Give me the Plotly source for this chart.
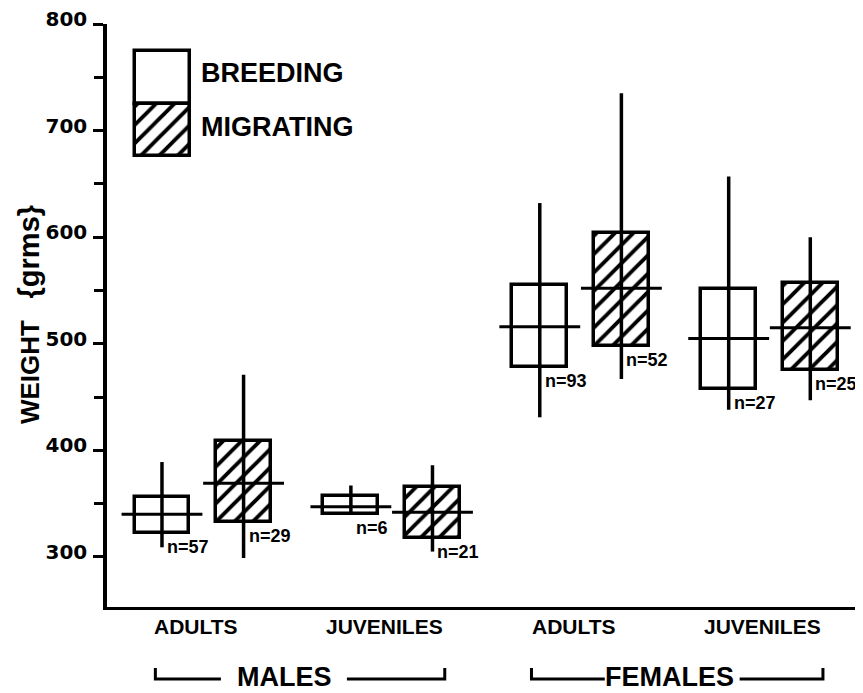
import plotly.graph_objects as go

# ---------------- data ----------------
age_groups = ["ADULTS", "JUVENILES", "ADULTS", "JUVENILES"]
sexes = ["MALES", "FEMALES"]
y_ticks = [300, 400, 500, 600, 700, 800]

# Breeding season (open boxes)
breed_mean = [340, 347, 516, 505]
breed_box_low = [322, 340, 478, 458]
breed_box_high = [356, 357, 555, 551]
breed_min = [309, 341, 431, 438]
breed_max = [389, 367, 632, 657]
breed_n = [57, 6, 93, 27]

# Migrating season (hatched boxes)
migr_mean = [369, 342, 552, 515]
migr_box_low = [333, 318, 498, 475]
migr_box_high = [409, 366, 604, 557]
migr_min = [299, 305, 467, 447]
migr_max = [471, 386, 735, 600]
migr_n = [29, 21, 52, 25]

# ---------------- layout constants ----------------
# page body has an 8px default margin, so the figure is sized/offset to compensate
W, H = 855, 685
ML, MR, MT, MB = 99, 0, 16, 86
OFF = 0.216        # offset of each season within a group
BOXW = 0.29        # box width (x units)
MEANHW = 0.214     # half width of mean line
TXT = "Liberation Sans, Arial, sans-serif"
HATCH = dict(shape="/", fgcolor="black", bgcolor="white", size=13, solidity=0.3, fgopacity=1)

fig = go.Figure()

def add_season(idx_off, mean, lo, hi, mn, mx, ns, hatched):
    xs = [i + idx_off for i in range(len(mean))]
    pattern = HATCH if hatched else dict(shape="")
    fig.add_trace(go.Bar(
        x=xs, y=[h - l for h, l in zip(hi, lo)], base=lo, width=BOXW,
        marker=dict(color="white", opacity=1, line=dict(color="black", width=3.5), pattern=pattern),
        showlegend=False, hoverinfo="skip"))
    vx, vy, hx, hy = [], [], [], []
    for x, a, b, m in zip(xs, mn, mx, mean):
        vx += [x, x, None]
        vy += [a, b, None]
        hx += [x - MEANHW, x + MEANHW, None]
        hy += [m, m, None]
    fig.add_trace(go.Scatter(x=vx, y=vy, mode="lines", line=dict(color="black", width=3.5),
                             showlegend=False, hoverinfo="skip"))
    fig.add_trace(go.Scatter(x=hx, y=hy, mode="lines", line=dict(color="black", width=3),
                             showlegend=False, hoverinfo="skip"))
    for x, l, n in zip(xs, lo, ns):
        fig.add_annotation(x=x, y=l, text=f"n={n}", showarrow=False, xanchor="left", yanchor="middle",
                           xshift=3, yshift=-14, font=dict(family=TXT, size=18, color="black", weight="bold"))

add_season(-OFF, breed_mean, breed_box_low, breed_box_high, breed_min, breed_max, breed_n, False)
add_season(+OFF, migr_mean, migr_box_low, migr_box_high, migr_min, migr_max, migr_n, True)

# ---------------- legend swatch ----------------
LX = -0.2135
fig.add_trace(go.Bar(x=[LX], y=[50], base=[725], width=BOXW,
                     marker=dict(color="white", opacity=1, line=dict(color="black", width=3.5)),
                     showlegend=False, hoverinfo="skip"))
fig.add_trace(go.Bar(x=[LX], y=[49], base=[676], width=BOXW,
                     marker=dict(color="white", opacity=1, line=dict(color="black", width=3.5),
                                 pattern=HATCH),
                     showlegend=False, hoverinfo="skip"))
fig.add_annotation(x=LX + BOXW / 2, y=754, text="BREEDING", showarrow=False, xanchor="left", yanchor="middle",
                   xshift=9, font=dict(family=TXT, size=27, color="black", weight="bold"))
fig.add_annotation(x=LX + BOXW / 2, y=703, text="MIGRATING", showarrow=False, xanchor="left", yanchor="middle",
                   xshift=9, font=dict(family=TXT, size=27, color="black", weight="bold"))

# ---------------- category labels ----------------
for i, g in enumerate(age_groups):
    fig.add_annotation(x=i, y=-0.0326, xref="x", yref="paper", text=g, showarrow=False,
                       xanchor="center", yanchor="middle", xshift=-7,
                       font=dict(family=TXT, size=21, color="black", weight="bold"))

sex_center = [0.432, 2.472]
brackets = [(-0.251, 0.096, 0.763, 1.281), (1.740, 2.128, 2.842, 3.283)]
yb_top, yb_bot = -0.1046, -0.1235
for s, c, (a, b, d, e) in zip(sexes, sex_center, brackets):
    fig.add_annotation(x=c, y=-0.1195, xref="x", yref="paper", text=s, showarrow=False,
                       xanchor="center", yanchor="middle",
                       font=dict(family=TXT, size=27, color="black", weight="bold"))
    fig.add_shape(type="path", xref="x", yref="paper",
                  path=f"M {a},{yb_top} L {a},{yb_bot} L {b},{yb_bot}",
                  line=dict(color="black", width=3))
    fig.add_shape(type="path", xref="x", yref="paper",
                  path=f"M {d},{yb_bot} L {e},{yb_bot} L {e},{yb_top}",
                  line=dict(color="black", width=3))

# y title
fig.add_annotation(x=-0.103, y=527, xref="paper", yref="y", textangle=-90,
                   text="WEIGHT&nbsp;&nbsp;&nbsp;<span style='font-size:29px'>{grms}</span>",
                   showarrow=False, xanchor="center", yanchor="middle",
                   font=dict(family=TXT, size=26, color="black", weight="bold"))

fig.update_layout(
    width=W, height=H,
    margin=dict(l=ML, r=MR, t=MT, b=MB, autoexpand=False),
    paper_bgcolor="white", plot_bgcolor="white",
    barmode="overlay", bargap=0,
    showlegend=False,
    xaxis=dict(range=[-0.507, 3.495], showgrid=False, zeroline=False, showticklabels=False,
               ticks="", showline=True, linecolor="black", linewidth=3, automargin=False),
    yaxis=dict(range=[253, 800], showgrid=False, zeroline=False, showline=True,
               linecolor="black", linewidth=3.5, automargin=False,
               tickvals=y_ticks, ticktext=[str(t) for t in y_ticks],
               ticks="outside", ticklen=10, tickwidth=3, tickcolor="black",
               ticklabelshift=-5, ticklabelstandoff=2, ticklabeloverflow="allow",
               tickfont=dict(family="DejaVu Sans", size=20, color="black", weight="bold"),
               minor=dict(dtick=50, tick0=0, ticks="outside", ticklen=9, tickwidth=3, tickcolor="black")),
)

fig.write_html("out.html")
